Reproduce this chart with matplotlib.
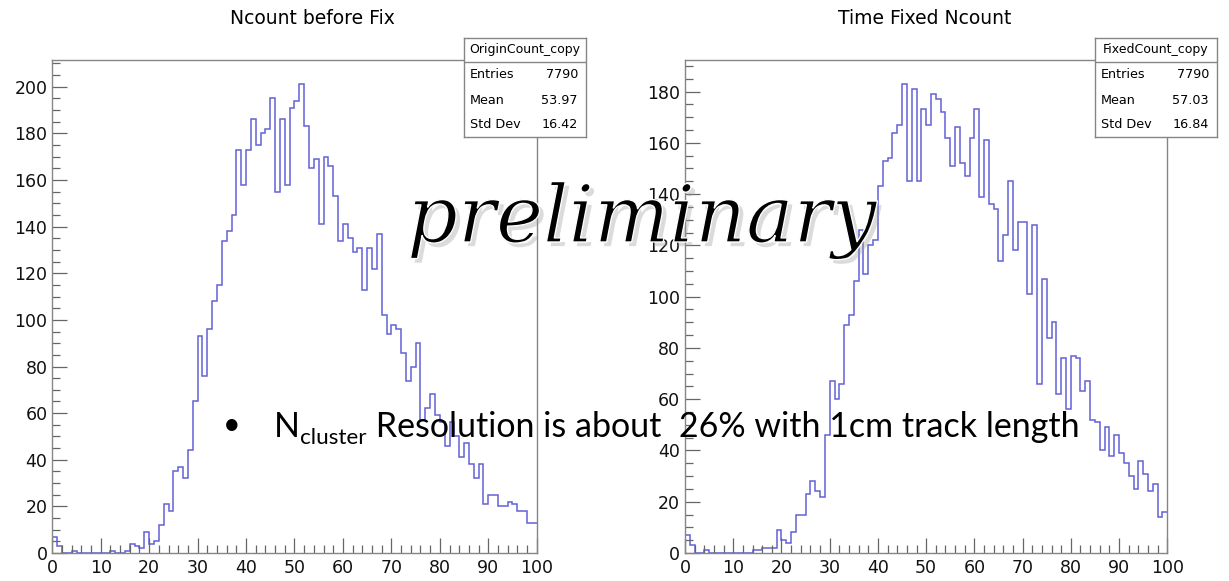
import matplotlib
matplotlib.use("Agg")
import matplotlib.pyplot as plt
import matplotlib.patheffects as pe
from matplotlib.ticker import MultipleLocator
import numpy as np

W, H = 1229, 581

# bin edges: 100 bins of width 1 from 0 to 100
edges = np.arange(0, 101, 1)

# Ncount before fix (OriginCount_copy)
origin_counts = [
    7, 3, 0, 0, 1, 0, 0, 0, 0, 0,
    0, 0, 1, 0, 0, 1, 4, 3, 2, 9,
    4, 5, 12, 21, 18, 35, 37, 32, 44, 65,
    93, 76, 96, 108, 115, 134, 138, 145, 173, 158,
    173, 186, 175, 180, 182, 195, 155, 186, 158, 191,
    194, 201, 183, 165, 169, 141, 170, 166, 153, 134,
    141, 135, 129, 131, 113, 131, 122, 137, 102, 94,
    98, 96, 86, 74, 80, 90, 57, 62, 68, 59,
    56, 46, 56, 50, 41, 47, 38, 32, 38, 21,
    25, 25, 20, 20, 22, 21, 18, 18, 13, 13,
]

# Time fixed Ncount (FixedCount_copy)
fixed_counts = [
    7, 3, 0, 0, 1, 0, 0, 0, 0, 0,
    0, 0, 0, 0, 1, 1, 2, 2, 2, 9,
    5, 4, 8, 15, 15, 23, 28, 24, 22, 46,
    67, 60, 66, 89, 93, 106, 126, 109, 120, 122,
    143, 153, 154, 164, 167, 183, 145, 181, 145, 173,
    167, 179, 177, 172, 162, 151, 166, 152, 147, 162,
    173, 139, 161, 136, 134, 114, 124, 145, 118, 129,
    129, 101, 128, 66, 107, 84, 90, 62, 76, 56,
    77, 76, 63, 67, 52, 51, 40, 49, 38, 46,
    39, 35, 30, 25, 36, 31, 24, 27, 14, 16,
]

titles = ["Ncount before Fix", "Time Fixed Ncount"]
stat_names = ["OriginCount_copy", "FixedCount_copy"]
stat_labels = ["Entries", "Mean", "Std Dev"]
origin_stats = ["7790", "53.97", "16.42"]
fixed_stats = ["7790", "57.03", "16.84"]

line_col = "#6262d8"
frame_col = "#858585"

fig = plt.figure(figsize=(W / 100, H / 100), dpi=100)
fig.patch.set_facecolor("white")


def rect(x0, y0, x1, y1):
    # pixel box (top-left origin) -> figure fraction rect
    return [x0 / W, 1 - y1 / H, (x1 - x0) / W, (y1 - y0) / H]


def hist_panel(box, counts, ytop):
    ax = fig.add_axes(rect(*box))
    ax.stairs(counts, edges, baseline=None, color=line_col, lw=1.1)
    ax.set_xlim(0, 100)
    ax.set_ylim(0, ytop)
    ax.xaxis.set_major_locator(MultipleLocator(10))
    ax.xaxis.set_minor_locator(MultipleLocator(2))
    ax.yaxis.set_major_locator(MultipleLocator(20))
    ax.yaxis.set_minor_locator(MultipleLocator(5))
    ax.tick_params(which="both", direction="in", top=False, right=False,
                   color="#666666", width=0.9, labelsize=12.5, labelcolor="#111111")
    ax.tick_params(which="major", length=10.5)
    ax.tick_params(which="minor", length=5.5)
    ax.tick_params(axis="y", pad=3.5)
    ax.tick_params(axis="x", pad=4)
    for s in ax.spines.values():
        s.set_color(frame_col)
        s.set_linewidth(1.0)
    return ax


ax1 = hist_panel((52.3, 60, 536.7, 553), origin_counts, 211.5)
ax2 = hist_panel((685, 60, 1167.3, 553), fixed_counts, 192.3)

fig.text(312 / W, 1 - 18 / H, titles[0], ha="center", va="center", fontsize=13.5)
fig.text(925 / W, 1 - 18 / H, titles[1], ha="center", va="center", fontsize=13.5)


def stat_box(x0, x1, name, vals):
    y0, y1, ysep = 38, 137, 62
    sb = fig.add_axes(rect(x0, y0, x1, y1))
    sb.set_xlim(x0, x1)
    sb.set_ylim(y1, y0)
    sb.set_xticks([])
    sb.set_yticks([])
    sb.set_facecolor("white")
    for s in sb.spines.values():
        s.set_color(frame_col)
        s.set_linewidth(1.0)
    sb.axhline(ysep, color=frame_col, lw=1.0)
    sb.text((x0 + x1) / 2, 50, name, ha="center", va="center", fontsize=9)
    for i, (lab, v) in enumerate(zip(stat_labels, vals)):
        yy = 75 + 25 * i
        sb.text(x0 + 6, yy, lab, ha="left", va="center", fontsize=9.2)
        sb.text(x1 - 8, yy, v, ha="right", va="center", fontsize=9.2)


stat_box(464, 586, stat_names[0], origin_stats)
stat_box(1095, 1217, stat_names[1], fixed_stats)

r = fig.canvas.get_renderer()

# watermark, scaled to span the reference width
prelim = fig.text(407 / W, 1 - 242 / H, "preliminary", fontsize=50,
                  family="DejaVu Serif", style="italic", color="black",
                  ha="left", va="baseline")
wp = prelim.get_window_extent(r).width
prelim.set_fontsize(50 * 470 / wp)
# thin white rim on top keeps the glyphs lighter, like the original
prelim.set_path_effects([pe.SimplePatchShadow(offset=(3, -3), shadow_rgbFace="0.6", alpha=0.35),
                         pe.Normal(),
                         pe.Stroke(linewidth=1.0, foreground="white")])

# bullet line
fam = "Lato"
x_start, base = 274, 437
bullet = fig.text(232 / W, 1 - 425 / H, "\u2022", fontsize=22, family=fam,
                  ha="center", va="center")


def place_line(fs):
    tN = fig.text(x_start / W, 1 - base / H, "N", fontsize=fs, family=fam, va="baseline")
    wN = tN.get_window_extent(r).width
    tS = fig.text((x_start + wN) / W, 1 - (base + 0.3 * fs) / H, "cluster",
                  fontsize=fs * 0.66, family=fam, va="baseline")
    wS = tS.get_window_extent(r).width
    tR = fig.text((x_start + wN + wS) / W, 1 - base / H,
                  " Resolution is about  26% with 1cm track length",
                  fontsize=fs, family=fam, va="baseline")
    wR = tR.get_window_extent(r).width
    return [tN, tS, tR], wN + wS + wR


parts, wtot = place_line(24)
for t in parts:
    t.remove()
place_line(24 * 805 / wtot)

fig.savefig("out.png", dpi=100)
